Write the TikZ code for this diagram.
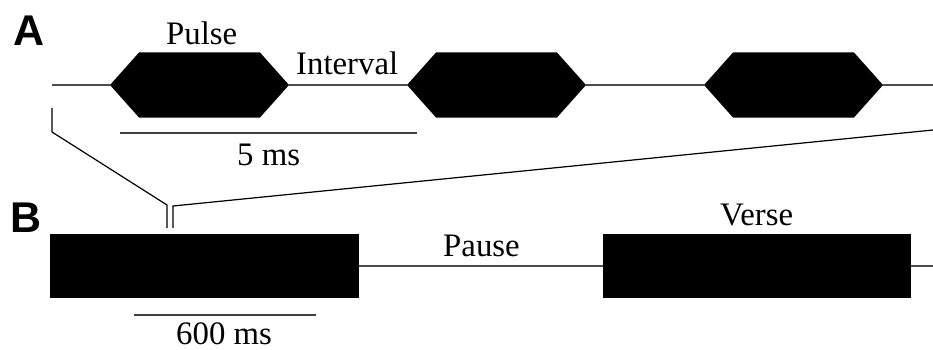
\documentclass[tikz,border=0pt]{standalone}
\usepackage{fontspec}
\setmainfont{Liberation Serif}
\newfontfamily\panelfont{Liberation Sans}
\begin{document}
\begin{tikzpicture}[x=1pt,y=-1pt,
  trace/.style={draw=black!70,line width=1.3pt},
  zoomline/.style={draw=black,line width=1.2pt},
  scalebar/.style={draw=black!75,line width=1.3pt},
  lbl/.style={inner sep=0pt,anchor=base west,font=\fontsize{32.8}{33}\selectfont},
  panel/.style={inner sep=0pt,anchor=base west,font=\panelfont\bfseries\fontsize{43}{43}\selectfont},
  versebox/.style={rectangle,fill=black,inner sep=0pt,minimum height=64pt}]
\useasboundingbox (0,0) rectangle (933,350);

% panel A: pulse train
\newcommand\pulsehex[2]{%
  \fill (#1,85) -- ++(29,-32.5) -- ++(121,0) -- ++(29,32.5)
        -- ++(-29,32.5) -- ++(-121,0) -- cycle;
  \coordinate (#2w) at (#1,85);
  \coordinate (#2e) at (#1+179,85);}
\pulsehex{110}{p1}
\pulsehex{407}{p2}
\pulsehex{704}{p3}
\coordinate (astart) at (52,85);
\coordinate (aend) at (933,85);
\draw[trace] (astart) -- (p1w) (p1e) -- (p2w) (p2e) -- (p3w) (p3e) -- (aend);

\node[panel] (la) at (13,46) {A};
\node[lbl] (pulse) at (166,45) {Pulse};
\node[lbl] (interval) at (296,75) {Interval};
\coordinate (s5a) at (120,133);
\coordinate (s5b) at (417,133);
\draw[scalebar] (s5a) -- (s5b);
\node[lbl] (five) at (237,165) {5 ms};

% zoom lines from A to B
\coordinate (zl1) at (52,108);
\coordinate (zl2) at (52,132);
\coordinate (zl3) at (167,205);
\coordinate (zl4) at (167,228);
\coordinate (zr1) at (933,130);
\coordinate (zr2) at (173,206);
\coordinate (zr3) at (173,228);
\draw[zoomline] (zl1) -- (zl2) -- (zl3) -- (zl4);
\draw[zoomline] (zr1) -- (zr2) -- (zr3);

% panel B: verses and pause
\node[panel] (lb) at (10,232) {B};
\node[versebox,minimum width=309pt] (v1) at (204.5,266) {};
\node[versebox,minimum width=308pt] (v2) at (757,266) {};
\coordinate (bend) at (933,266);
\draw[trace] (v1.east) -- (v2.west) (v2.east) -- (bend);
\node[lbl] (pause) at (443,256) {Pause};
\node[lbl] (verse) at (720,225) {Verse};
\coordinate (s6a) at (134,315);
\coordinate (s6b) at (316,315);
\draw[scalebar] (s6a) -- (s6b);
\node[lbl] (six) at (176,344) {600 ms};
\end{tikzpicture}
\end{document}
